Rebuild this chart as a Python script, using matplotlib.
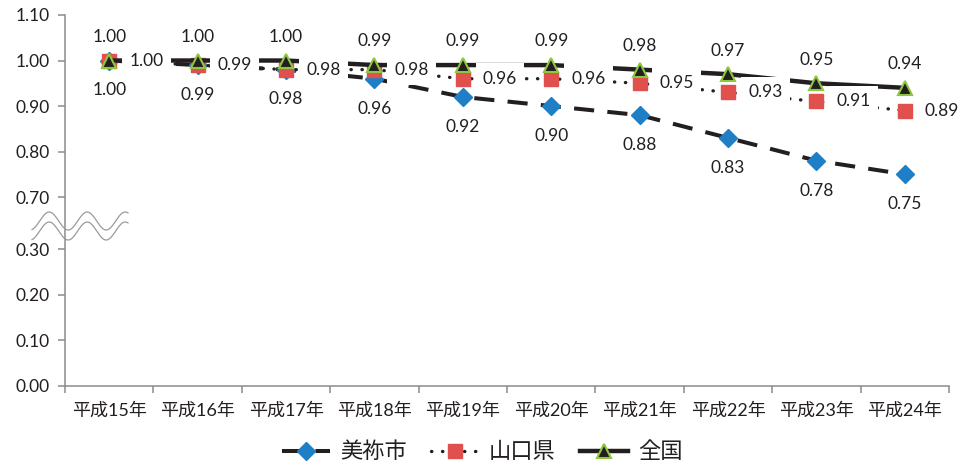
"""Population index trend chart: 美祢市 / 山口県 / 全国 (平成15年 = 1.00)."""

import numpy as np
import matplotlib
matplotlib.use("Agg")
import matplotlib.pyplot as plt

plt.rcParams['font.family'] = ['Lato', 'Noto Sans CJK JP', 'DejaVu Sans']

years = ["平成15年", "平成16年", "平成17年", "平成18年", "平成19年",
         "平成20年", "平成21年", "平成22年", "平成23年", "平成24年"]
mine = [1.00, 0.99, 0.98, 0.96, 0.92, 0.90, 0.88, 0.83, 0.78, 0.75]
yamaguchi = [1.00, 0.99, 0.98, 0.98, 0.96, 0.96, 0.95, 0.93, 0.91, 0.89]
national = [1.00, 1.00, 1.00, 0.99, 0.99, 0.99, 0.98, 0.97, 0.95, 0.94]
yticks = [0.00, 0.10, 0.20, 0.30, 0.70, 0.80, 0.90, 1.00, 1.10]

TEXT = "#231f20"
AXIS = "#8c8c8c"


# broken y axis: 0.3-0.7 squeezed into a short gap
def fwd(v):
    v = np.asarray(v, dtype=float)
    return np.where(v <= 0.3, v,
                    np.where(v >= 0.7, v - 0.285, 0.3 + (v - 0.3) * 0.2875))


def inv(u):
    u = np.asarray(u, dtype=float)
    return np.where(u <= 0.3, u,
                    np.where(u >= 0.415, u + 0.285, 0.3 + (u - 0.3) / 0.2875))


fig = plt.figure(figsize=(9.65, 4.63), dpi=100)
ax = fig.add_axes([65 / 965, 1 - 386 / 463, 884 / 965, 371 / 463])
ax.set_yscale('function', functions=(fwd, inv))

x = np.arange(len(years))

l1, = ax.plot(x, mine, color=TEXT, lw=2.9, dashes=(5, 3.3),
              marker='D', ms=9, mfc='#1f7fc6', mec='#1f7fc6', zorder=2)
l2, = ax.plot(x, yamaguchi, color=TEXT, lw=2.4, dashes=(0.1, 3.2),
              dash_capstyle='round', marker='s', ms=10.5, mfc='#e0504d',
              mec='#e0504d', zorder=3)
l3, = ax.plot(x, national, color=TEXT, lw=3.2, marker='^', ms=10.5,
              mfc=TEXT, mec='#8dc63f', mew=1.5, zorder=4)

# white label boxes sit on top of the lines
box = dict(boxstyle='square,pad=0.42', fc='white', ec='none')
lab = dict(fontsize=12.5, color=TEXT, zorder=6, bbox=box,
           textcoords='offset points')
for i in x:
    ax.annotate(f"{national[i]:.2f}", (i, national[i]), xytext=(0, 17),
                ha='center', va='center', **lab)
    ax.annotate(f"{yamaguchi[i]:.2f}", (i, yamaguchi[i]), xytext=(14.5, 0),
                ha='left', va='center', **lab)
    ax.annotate(f"{mine[i]:.2f}", (i, mine[i]), xytext=(0, -21.5),
                ha='center', va='center', **lab)

ax.set_xlim(-0.5, len(years) - 0.5)
ax.set_ylim(0, 1.1)
ax.set_yticks(yticks)
ax.set_yticklabels([f"{t:.2f}" for t in yticks])

ax.set_xticks(np.arange(len(years) + 1) - 0.5)
ax.set_xticklabels([])
ax.set_xticks(x, minor=True)
ax.set_xticklabels(years, minor=True)
ax.tick_params(axis='x', which='major', length=5, color=AXIS, width=1.1)
ax.tick_params(axis='x', which='minor', length=0, pad=11.5, labelsize=13,
               labelcolor=TEXT)
ax.tick_params(axis='y', length=5, color=AXIS, width=1.1, pad=6,
               labelsize=12.5, labelcolor=TEXT)

for side in ('top', 'right'):
    ax.spines[side].set_visible(False)
for side in ('left', 'bottom'):
    ax.spines[side].set_color(AXIS)
    ax.spines[side].set_linewidth(1.1)

# wavy break marks across the y axis
t = np.linspace(0, 1, 200)
wx = (32 + 96 * t) / 965
for y0 in (221, 231):
    wy = 1 - (y0 + 9 * np.sin(2 * np.pi * (96 * t) / 38 + np.pi / 2 + 0.3)) / 463
    fig.add_artist(plt.Line2D(wx, wy, color='#9a9a9a', lw=0.9))

fig.legend([l1, l2, l3], ["美祢市", "山口県", "全国"], loc='center',
           bbox_to_anchor=(0.5, 1 - 452 / 463), ncol=3, frameon=False,
           fontsize=16, handlelength=2.15, handletextpad=0.45,
           columnspacing=1.1, labelcolor=TEXT)

fig.savefig("out.png", dpi=100)
